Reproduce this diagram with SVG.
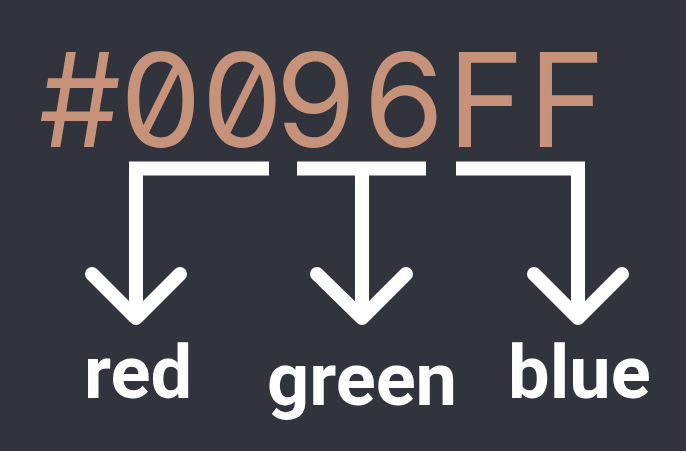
<svg xmlns="http://www.w3.org/2000/svg" width="686" height="451" viewBox="0 0 686 451">
<style>
.hex{font-family:Inter,"DejaVu Sans Mono",monospace;font-size:130px;fill:#c6937a;font-feature-settings:'zero' 1,'tnum' 1}
.lbl{font-family:Roboto,"Liberation Sans",sans-serif;font-weight:bold;font-size:74px;fill:#ffffff}
.bar{fill:none;stroke:#ffffff;stroke-width:14;stroke-linejoin:miter;stroke-linecap:butt}
.chev{fill:none;stroke:#ffffff;stroke-width:14;stroke-linejoin:round;stroke-linecap:round}
</style>
<rect width="686" height="451" fill="#31343d"/>
<g id="hexcode"><text class="hex" y="147" text-anchor="middle" x="79.8 161 242.4 316 404 485.8 566.8">#0096FF</text></g>
<g id="connectors">
<path class="bar" d="M269,168.5 H136 V318"/>
<path class="chev" d="M92,274 L136,318 L180,274"/>
<path class="bar" d="M297,168.5 H426 M362,168.5 V318"/>
<path class="chev" d="M317,274 L362,318 L406,274"/>
<path class="bar" d="M456,168.5 H578 V318"/>
<path class="chev" d="M534,274 L578,318 L622,274"/>
</g>
<g id="red"><text class="lbl" x="84" y="398">red</text></g>
<g id="green"><text class="lbl" x="267" y="405">green</text></g>
<g id="blue"><text class="lbl" x="508" y="398">blue</text></g>
</svg>
